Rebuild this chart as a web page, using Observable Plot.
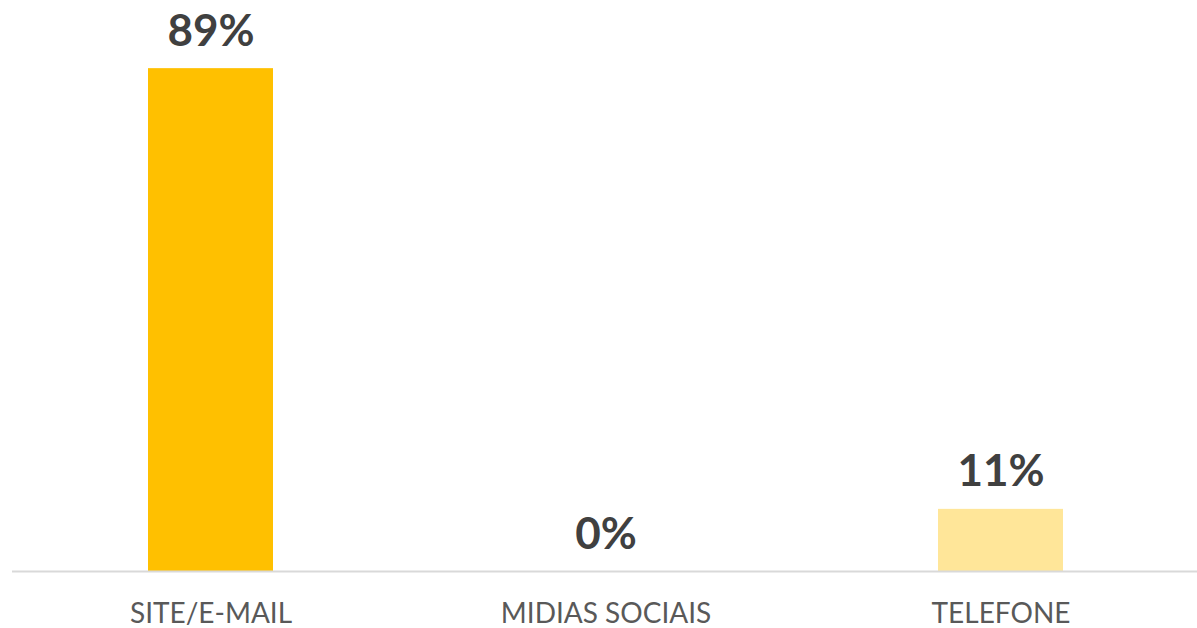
<!DOCTYPE html>
<html>
<head>
<meta charset="utf-8">
<script src="https://cdn.jsdelivr.net/npm/d3@7"></script>
<script src="https://cdn.jsdelivr.net/npm/@observablehq/plot@0.6"></script>
<style>
  html, body { margin: 0; padding: 0; background: #fff; }
</style>
</head>
<body>
<div id="chart"></div>
<script>
const categories = ["SITE/E-MAIL", "MIDIAS SOCIAIS", "TELEFONE"];
const values = [89, 0, 11];
const colors = ["#FFC000", "#FFC000", "#FFE699"];

const data = categories.map((c, i) => ({category: c, value: values[i], color: colors[i]}));

const chart = Plot.plot({
  width: 1197,
  height: 628,
  marginLeft: 12,
  marginRight: -2,
  marginTop: 6,
  marginBottom: 57,
  style: {fontFamily: "Lato, sans-serif", background: "#fff", overflow: "hidden"},
  x: {domain: categories, paddingInner: 0.684, paddingOuter: 0.342, label: null},
  y: {domain: [0, 100], axis: null},
  marks: [
    Plot.barY(data, {x: "category", y: "value", fill: "color"}),
    Plot.ruleY([0], {stroke: "#D9D9D9", strokeWidth: 2}),
    Plot.text(data, {
      x: "category", y: "value",
      text: d => d.value + "%",
      lineAnchor: "bottom", dy: -23,
      fontSize: 44, fontWeight: "bold", fill: "#404040"
    }),
    Plot.axisX({tickSize: 0, tickPadding: 32, fontSize: 28, color: "#595959", label: null})
  ]
});
document.getElementById("chart").appendChild(chart);
</script>
</body>
</html>
